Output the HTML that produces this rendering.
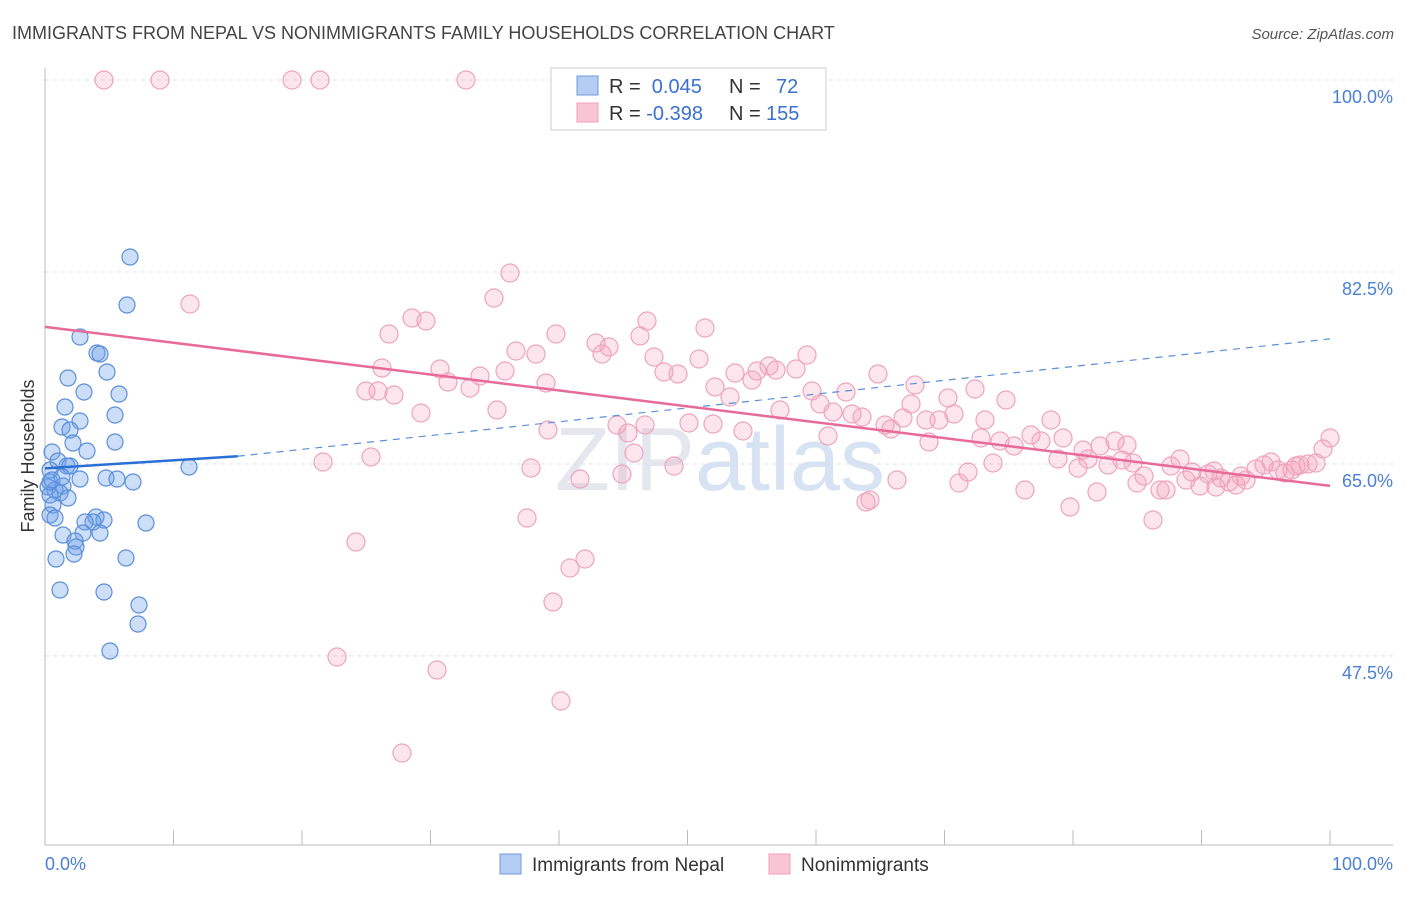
<!DOCTYPE html>
<html><head><meta charset="utf-8"><style>
body{margin:0;background:#fff;font-family:"Liberation Sans",sans-serif}
svg text{font-family:"Liberation Sans",sans-serif}
</style></head><body>
<svg id="chart" width="1406" height="892">
<text x="12" y="39" font-size="18" fill="#444">IMMIGRANTS FROM NEPAL VS NONIMMIGRANTS FAMILY HOUSEHOLDS CORRELATION CHART</text>
<text x="1394" y="39" font-size="15" fill="#555" font-style="italic" text-anchor="end">Source: ZipAtlas.com</text>
<text x="720" y="490" font-size="90" fill="#e4e8ee" text-anchor="middle" font-family="Liberation Serif">ZIP<tspan fill="#d7e3f3" font-family="Liberation Sans">atlas</tspan></text>
<g id="grid"></g>
<g id="axes"></g>
<g id="pts"></g>
<g id="lines"></g>
<text x="34" y="456" font-size="18" fill="#333" text-anchor="middle" transform="rotate(-90 34 456)">Family Households</text>
<text x="45" y="870" font-size="18" fill="#4a7fd4">0.0%</text>
<text x="1393" y="870" font-size="18" fill="#4a7fd4" text-anchor="end">100.0%</text>
<g>
<rect x="551" y="68" width="275" height="62" fill="#fff" stroke="#ccc"/>
<rect x="577" y="76" width="21" height="19" fill="#b3cdf3" stroke="#6d9be0"/>
<rect x="577" y="103" width="21" height="19" fill="#f9c5d5" stroke="#eca0ba"/>
<text x="609" y="93" font-size="20" fill="#333">R = <tspan fill="#3a70d0">&#160;0.045</tspan><tspan x="729">N = </tspan><tspan x="776" fill="#3a70d0">72</tspan></text>
<text x="609" y="120" font-size="20" fill="#333">R = <tspan fill="#3a70d0">-0.398</tspan><tspan x="729">N = </tspan><tspan x="766" fill="#3a70d0">155</tspan></text>
</g>
<g>
<rect x="500" y="854" width="21" height="20" fill="#b3cdf3" stroke="#6d9be0"/>
<text x="532" y="871" font-size="19" fill="#333">Immigrants from Nepal</text>
<rect x="769" y="854" width="21" height="20" fill="#f9c5d5" stroke="#eca0ba"/>
<text x="801" y="871" font-size="19" fill="#333">Nonimmigrants</text>
</g>
</svg>
<script>
const yTicks=[100,82.5,65,47.5];
const xTicks=[0,10,20,30,40,50,60,70,80,90,100];
const bluePts=[[130,257],[127,305],[80,337],[97,353],[100,354],[107,372],[68,378],[84,392],[119,394],[65,407],[80,421],[115,415],[62,427],[70,430],[115,442],[73,443],[87,451],[52,452],[58,461],[67,466],[70,466],[50,470],[189,467],[106,478],[117,479],[133,482],[80,479],[63,486],[48,487],[55,490],[60,493],[50,495],[68,498],[53,505],[50,515],[55,518],[96,517],[104,520],[93,522],[146,523],[85,522],[63,535],[100,533],[83,533],[75,541],[76,547],[74,554],[126,558],[56,559],[60,590],[104,592],[139,605],[138,624],[110,651],[50,482],[52,480],[62,477]];
const pinkPts=[[104,80],[160,80],[292,80],[320,80],[466,80],[510,273],[494,298],[190,304],[412,318],[426,321],[389,334],[556,334],[647,321],[640,336],[705,328],[596,343],[609,347],[602,354],[516,351],[536,354],[654,357],[699,359],[807,355],[382,368],[440,369],[505,371],[480,376],[664,372],[678,374],[757,371],[769,366],[776,370],[796,369],[752,380],[735,373],[878,374],[366,391],[378,391],[394,395],[448,382],[470,388],[546,383],[715,387],[730,397],[812,391],[846,392],[915,385],[975,389],[1006,400],[948,398],[911,404],[780,410],[820,404],[833,412],[852,414],[862,417],[497,410],[421,413],[645,425],[689,423],[713,424],[743,431],[617,425],[628,433],[548,430],[828,436],[885,425],[891,429],[903,418],[926,420],[939,420],[954,414],[985,420],[1051,420],[981,438],[1000,441],[1014,446],[1031,435],[1041,441],[1063,438],[1083,450],[1100,446],[1115,441],[1127,445],[929,442],[323,462],[371,457],[634,453],[674,466],[531,468],[580,479],[622,474],[993,463],[968,472],[959,483],[1058,459],[1078,468],[1088,459],[1108,465],[1122,460],[1133,463],[1144,476],[1160,490],[1166,490],[1171,466],[1180,459],[1186,480],[1192,472],[1200,486],[1208,474],[1214,471],[1221,478],[1229,482],[1236,485],[1246,480],[1256,469],[1264,465],[1271,462],[1278,470],[1285,473],[1292,470],[1300,465],[1308,464],[1316,463],[1323,449],[1330,438],[1025,490],[1097,492],[1070,507],[1153,520],[897,480],[866,502],[870,500],[527,518],[356,542],[585,559],[570,568],[553,602],[337,657],[437,670],[561,701],[402,753],[1137,483],[1241,476],[1216,487],[1296,466]].map(p=>[(p[0]-45)/12.85,100-(p[1]-80)/10.97]);
const blueData=bluePts.map(p=>[(p[0]-45)/12.85,100-(p[1]-80)/10.97]);
const blueTrend=[[0,64.6],[15,65.7],[100,76.4]];
const pinkTrend=[[0,77.5],[100,63.0]];
const X=v=>45+v*12.85, Y=v=>80+(100-v)*10.97;
const NS="http://www.w3.org/2000/svg";
function mk(parent,tag,attrs){const e=document.createElementNS(NS,tag);for(const k in attrs)e.setAttribute(k,attrs[k]);document.getElementById(parent).appendChild(e);return e;}
yTicks.forEach(t=>{
 const l=mk('grid','line',{x1:45,x2:1393,y1:Y(t),y2:Y(t),stroke:'#dde',"stroke-dasharray":'4,4'});
 
 
 const tx=mk('grid','text',{x:1393,y:Y(t)+23,"font-size":18,fill:'#4a7fd4',"text-anchor":'end'});
 tx.textContent=t.toFixed(1)+'%';
 
 
});
const ax=mk('axes','line',{x1:45,x2:1393,y1:845,y2:845,stroke:'#bbb'});


const ay=mk('axes','line',{x1:45,x2:45,y1:68,y2:845,stroke:'#bbb'});


xTicks.forEach(t=>{
 const l=mk('axes','line',{x1:X(t),x2:X(t),y1:830,y2:845,stroke:'#bbb'});
 
 
});
pinkPts.forEach(p=>{
 const c=mk('pts','circle',{cx:X(p[0]),cy:Y(p[1]),r:9,fill:'rgba(244,160,188,0.28)',stroke:'#eea3bd',"stroke-width":1.2});
 
 
});
blueData.forEach(p=>{
 const c=mk('pts','circle',{cx:X(p[0]),cy:Y(p[1]),r:8,fill:'rgba(110,160,235,0.35)',stroke:'#5b8fd8',"stroke-width":1.2});
 
 
});
const b1=mk('lines','line',{x1:X(blueTrend[0][0]),y1:Y(blueTrend[0][1]),x2:X(blueTrend[1][0]),y2:Y(blueTrend[1][1]),stroke:'#2a6fd6',"stroke-width":2.5});


const b2=mk('lines','line',{x1:X(blueTrend[1][0]),y1:Y(blueTrend[1][1]),x2:X(blueTrend[2][0]),y2:Y(blueTrend[2][1]),stroke:'#5b8fd8',"stroke-width":1.2,"stroke-dasharray":'7,6'});


const p1=mk('lines','line',{x1:X(pinkTrend[0][0]),y1:Y(pinkTrend[0][1]),x2:X(pinkTrend[1][0]),y2:Y(pinkTrend[1][1]),stroke:'#e86a98',"stroke-width":2.5});


</script>
</body></html>
